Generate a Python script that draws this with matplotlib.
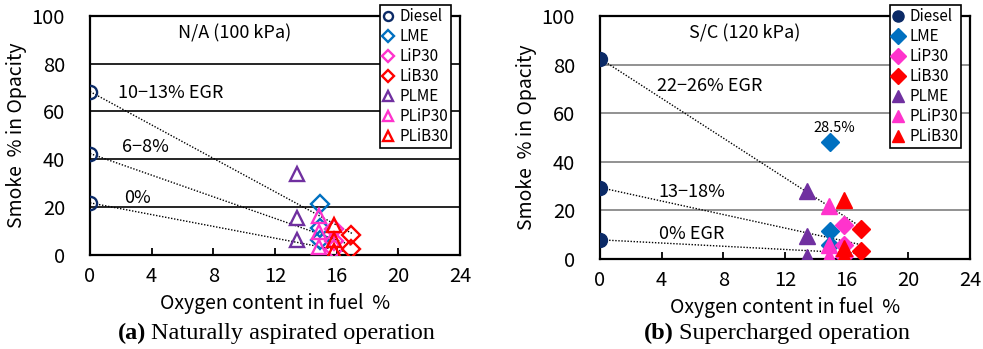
import matplotlib
matplotlib.use("Agg")
import matplotlib.pyplot as plt
from matplotlib.lines import Line2D

plt.rcParams['font.family'] = ['Noto Sans CJK JP', 'DejaVu Sans']

# ---------------- data ----------------
series_names = ["Diesel", "LME", "LiP30", "LiB30", "PLME", "PLiP30", "PLiB30"]
series_colors = ["#0B2A66", "#0070C0", "#FF33CC", "#FF0000", "#7030A0", "#FF33CC", "#FF0000"]
series_markers = ["o", "D", "D", "D", "^", "^", "^"]

# oxygen content in fuel (%)
oxygen = {"Diesel": 0.0, "LME": 14.9, "LiP30": 15.85, "LiB30": 16.95,
          "PLME": 13.4, "PLiP30": 14.85, "PLiB30": 15.85}

# (a) naturally aspirated, smoke % opacity
na_smoke = {
    "Diesel": [68.3, 42.4, 21.8],
    "LME": [21.4, 11.3, 6.4],
    "LiP30": [11.0, 6.0, 2.3],
    "LiB30": [8.5, 2.5],
    "PLME": [33.8, 15.4, 6.4],
    "PLiP30": [16.4, 9.8, 3.5],
    "PLiB30": [12.4, 6.3, 1.5],
}
# (b) supercharged
sc_smoke = {
    "Diesel": [82.5, 29.4, 7.9],
    "LME": [48.0, 11.6, 5.9],
    "LiP30": [13.8, 5.6, 1.3],
    "LiB30": [12.3, 3.1],
    "PLME": [28.0, 9.3, 0.8],
    "PLiP30": [22.0, 5.9, 0.8],
    "PLiB30": [24.3, 4.5, 1.4],
}

# EGR trend lines: start (x, y) and end (x, y)
na_trend_x = [[0, 17.0], [0, 17.0], [0, 16.5]]
na_trend_y = [[68.3, 9.0], [42.4, 4.0], [21.8, 1.5]]
sc_trend_x = [[0, 16.9], [0, 17.0], [0, 16.9]]
sc_trend_y = [[82.5, 13.3], [29.4, 5.8], [7.9, 2.3]]

na_labels = ["10\u221213% EGR", "6\u22128%", "0%"]
na_label_xy = [(1.8, 67.7), (2.1, 45.0), (2.2, 24.0)]
sc_labels = ["22\u221226% EGR", "13\u221218%", "0% EGR"]
sc_label_xy = [(3.7, 71.2), (3.8, 27.7), (3.8, 10.2)]

xticks = [0, 4, 8, 12, 16, 20, 24]
yticks = [0, 20, 40, 60, 80, 100]

# ---------------- figure ----------------
fig = plt.figure(figsize=(9.83, 3.49), dpi=100)
W, H = 983, 349

def px_axes(x0, x1, ytop, ybot):
    return fig.add_axes([x0 / W, 1 - ybot / H, (x1 - x0) / W, (ybot - ytop) / H])

axA = px_axes(90, 460, 15.7, 255)
axB = px_axes(600, 970, 16, 259)

def setup(ax, gridcolor):
    ax.set_xlim(0, 24)
    ax.set_ylim(0, 100)
    ax.set_xticks(xticks)
    ax.set_yticks(yticks)
    for y in yticks[1:-1]:
        ax.axhline(y, color=gridcolor, lw=1.2, zorder=1)
    for s in ax.spines.values():
        s.set_linewidth(1.6)
        s.set_color("black")
    ax.tick_params(axis="x", direction="in", length=5, width=1.3, labelsize=14.5, pad=8)
    ax.tick_params(axis="y", direction="in", length=0, labelsize=14.5, pad=18)
    ax.set_xlabel("Oxygen content in fuel  %", fontsize=14, labelpad=4)
    ax.set_ylabel("Smoke  % in Opacity", fontsize=14, labelpad=3)

def draw(ax, data, filled, trend_x, trend_y, legend_ms):
    setup(ax, "black" if not filled else "#7F7F7F")
    for tx, ty in zip(trend_x, trend_y):
        ax.plot(tx, ty, ls=(0, (1, 1.2)), color="black", lw=1.0, zorder=2)
    handles = []
    for name, col, mk in zip(series_names, series_colors, series_markers):
        ys = data[name]
        xs = [oxygen[name]] * len(ys)
        if filled:
            ms = {"o": 10, "D": 9.5, "^": 11}[mk]
            ax.plot(xs, ys, ls="none", marker=mk, ms=ms, mfc=col, mec=col, mew=1.0, zorder=3)
            h = Line2D([], [], ls="none", marker=mk, ms=legend_ms, mfc=col, mec=col)
        else:
            ms = {"o": 9.5, "D": 9, "^": 10.5}[mk]
            ax.plot(xs, ys, ls="none", marker=mk, ms=ms, mfc="none", mec=col, mew=1.7, zorder=3)
            h = Line2D([], [], ls="none", marker=mk, ms=legend_ms, mfc="none", mec=col, mew=1.7)
        handles.append(h)
    return handles

hA = draw(axA, na_smoke, False, na_trend_x, na_trend_y, 6.5)
hB = draw(axB, sc_smoke, True, sc_trend_x, sc_trend_y, 8)

for lab, (x, y) in zip(na_labels, na_label_xy):
    axA.text(x, y, lab, fontsize=13, va="center", ha="left", zorder=4)
for lab, (x, y) in zip(sc_labels, sc_label_xy):
    axB.text(x, y, lab, fontsize=13, va="center", ha="left", zorder=4)
axA.text(9.4, 92.8, "N/A (100 kPa)", fontsize=13, ha="center", va="center")
axB.text(9.4, 93.0, "S/C (120 kPa)", fontsize=13, ha="center", va="center")
axB.text(15.2, 54.0, "28.5%", fontsize=10.5, ha="center", va="center")

def add_legend(ax, handles, x0, x1, ytop, ybot):
    leg = fig.legend(handles, series_names, loc="upper left",
                     bbox_to_anchor=(x0 / W, 1 - ytop / H), bbox_transform=fig.transFigure,
                     fontsize=11, frameon=True, fancybox=False, framealpha=1,
                     edgecolor="black", borderpad=0.2, labelspacing=0.2,
                     handlelength=0.7, handletextpad=0.35, borderaxespad=0)
    leg.get_frame().set_linewidth(1.2)
    return leg

add_legend(axA, hA, 380, 452, 5, 146)
add_legend(axB, hB, 890, 963, 5, 144)

cap_font = ["Liberation Serif", "DejaVu Serif"]
def caption(xc, bold, rest):
    t1 = fig.text(xc / W, 1 - 332 / H, bold + " " + rest, fontsize=17.5,
                  family=cap_font, ha="center", va="center", alpha=0)
    fig.canvas.draw()
    r = fig.canvas.get_renderer()
    bb = t1.get_window_extent(r)
    left = bb.x0
    tb = fig.text(left / W, 1 - 333 / H, bold, fontsize=17.5, family=cap_font,
                  weight="bold", ha="left", va="center")
    bbb = tb.get_window_extent(r)
    fig.text((bbb.x1 + 5) / W, 1 - 333 / H, rest, fontsize=17.5, family=cap_font,
             ha="left", va="center")

caption(276, "(a)", "Naturally aspirated operation")
caption(777, "(b)", "Supercharged operation")

fig.savefig("out.png", dpi=100)
